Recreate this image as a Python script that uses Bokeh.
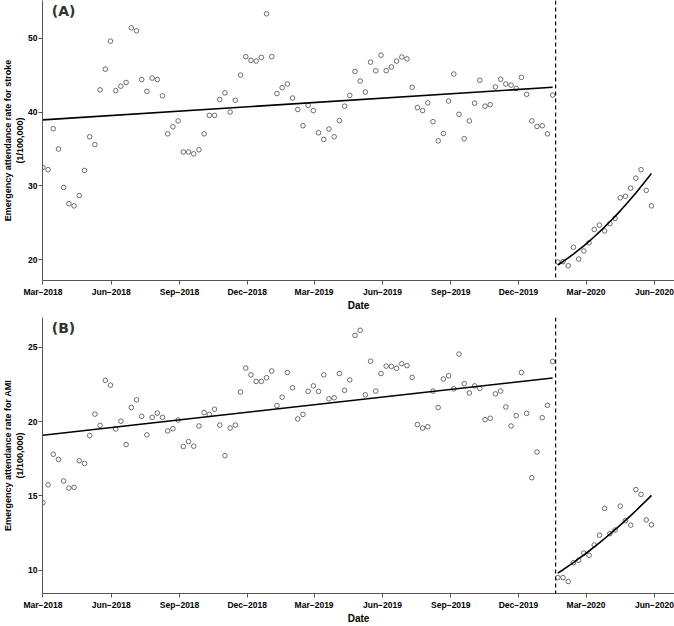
import pandas as pd
from bokeh.plotting import figure
from bokeh.layouts import column
from bokeh.models import (Range1d, FixedTicker, DatetimeTickFormatter, Span, Label,
                          ColumnDataSource)
from bokeh.embed import file_html
from bokeh.resources import INLINE

# ---------------- data ----------------
start_date = "2018-03-01"
n_weeks = 118
n_pre = 99
intervention_date = "2020-01-20"

stroke = [32.5, 32.2, 37.75, 35.0, 29.8, 27.6, 27.3, 28.7, 32.1, 36.65,
          35.6, 43.0, 45.8, 49.6, 42.9, 43.5, 44.0, 51.4, 51.0, 44.4,
          42.8, 44.6, 44.4, 42.2, 37.05, 38.0, 38.8, 34.6, 34.6, 34.35,
          34.9, 37.05, 39.55, 39.55, 41.7, 42.6, 40.0, 41.6, 45.0, 47.5,
          47.0, 46.9, 47.4, 53.3, 47.5, 42.5, 43.3, 43.8, 41.9, 40.35,
          38.15, 40.9, 40.2, 37.2, 36.3, 37.7, 36.65, 38.85, 40.8, 42.25,
          45.5, 44.2, 42.7, 46.75, 45.6, 47.7, 45.6, 46.1, 46.9, 47.45,
          47.2, 43.35, 40.6, 40.2, 41.25, 38.7, 36.1, 37.1, 41.5, 45.15,
          39.7, 36.4, 38.8, 41.2, 44.3, 40.8, 41.0, 43.4, 44.45, 43.8,
          43.65, 43.2, 44.7, 42.4, 38.8, 38.05, 38.15, 37.05, 42.3,
          19.7, 19.75, 19.2, 21.7, 20.1, 21.2, 22.3, 24.1, 24.7, 23.9,
          24.9, 25.6, 28.4, 28.6, 29.7, 31.05, 32.2, 29.4, 27.3]

ami = [14.54, 15.74, 17.8, 17.45, 16.0, 15.52, 15.57, 17.36, 17.18, 19.06,
       20.5, 19.74, 22.77, 22.45, 19.5, 20.02, 18.45, 20.94, 21.46, 20.35,
       19.1, 20.28, 20.57, 20.28, 19.37, 19.52, 20.1, 18.32, 18.65, 18.34,
       19.7, 20.6, 20.48, 20.83, 19.76, 17.7, 19.56, 19.76, 21.99, 23.6,
       23.14, 22.7, 22.7, 22.95, 23.4, 21.07, 21.64, 23.3, 22.27, 20.17,
       20.48, 22.03, 22.4, 22.03, 23.14, 21.53, 21.6, 23.23, 22.1, 22.8,
       25.8, 26.14, 21.8, 24.06, 22.05, 23.23, 23.73, 23.71, 23.58, 23.89,
       23.76, 22.97, 19.8, 19.56, 19.65, 22.05, 20.94, 22.86, 23.08, 22.2,
       24.54, 22.55, 21.92, 22.4, 22.23, 20.13, 20.22, 21.86, 22.05, 20.98,
       19.7, 20.39, 23.3, 20.55, 16.22, 17.95, 20.26, 21.09, 24.04,
       9.5, 9.5, 9.24, 10.5, 10.67, 11.15, 11.0, 11.7, 12.35, 14.16,
       12.46, 12.7, 14.31, 13.33, 13.03, 15.42, 15.1, 13.38, 13.05]

# fitted trend lines
stroke_pre_trend = [38.94, 43.35]
stroke_post_trend = [19.30, 19.77, 20.26, 20.78, 21.33, 21.90, 22.50, 23.12, 23.77, 24.45,
                     25.15, 25.88, 26.63, 27.41, 28.22, 29.05, 29.91, 30.79, 31.70]
ami_pre_trend = [19.08, 22.93]
ami_post_trend = [9.80, 10.03, 10.27, 10.51, 10.77, 11.02, 11.29, 11.56, 11.84, 12.13,
                  12.42, 12.73, 13.03, 13.35, 13.67, 14.00, 14.34, 14.68, 15.03]

tick_dates = ["2018-03-01", "2018-06-01", "2018-09-01", "2018-12-01", "2019-03-01",
              "2019-06-01", "2019-09-01", "2019-12-01", "2020-03-01", "2020-06-01"]
stroke_yticks = [20, 30, 40, 50]
ami_yticks = [10, 15, 20, 25]

dates = pd.date_range(start_date, periods=n_weeks, freq="7D")
pre_dates = dates[:n_pre]
post_dates = dates[n_pre:]

FONT = "Liberation Sans"


def ms(d):
    return pd.Timestamp(d).value / 1e6


def make_panel(values, pre_trend, post_trend, ylabel, yticks, yr, tag, tag_y, height, top_border):
    p = figure(width=674, height=height, x_axis_type="datetime",
               output_backend="svg", toolbar_location=None,
               x_range=Range1d(ms("2018-02-28 12:00"), ms("2020-06-28")),
               y_range=Range1d(*yr),
               min_border_left=0, min_border_right=0, min_border_top=top_border,
               min_border_bottom=0)
    p.outline_line_color = None
    p.xgrid.visible = False
    p.ygrid.visible = False

    src = ColumnDataSource(dict(x=list(dates), y=values))
    p.scatter("x", "y", source=src, marker="circle", size=4.6, fill_color=None,
              line_color="#4a4a4a", line_width=0.8)
    p.line([pre_dates[0], pre_dates[-1]], pre_trend, line_color="black", line_width=1.6)
    p.line(list(post_dates), post_trend, line_color="black", line_width=1.6)
    p.add_layout(Span(location=ms(intervention_date), dimension="height",
                      line_color="black", line_dash="4 3", line_width=1.2))
    p.add_layout(Label(x=ms("2018-03-13"), y=tag_y, text=tag, text_font="DejaVu Sans",
                       text_font_style="bold", text_font_size="14px",
                       text_color="#333333", text_baseline="top"))

    for ax in (p.xaxis, p.yaxis):
        ax.axis_line_color = "#555555"
        ax.axis_line_width = 1
        ax.major_tick_line_color = "#555555"
        ax.major_tick_out = 4
        ax.major_tick_in = 0
        ax.minor_tick_line_color = None
        ax.major_label_text_font = FONT
        ax.major_label_text_font_style = "bold"
        ax.major_label_text_font_size = "8.5px"
        ax.major_label_text_color = "black"
        ax.axis_label_text_font = FONT
        ax.axis_label_text_font_style = "bold"
        ax.axis_label_text_color = "black"
    p.xaxis.axis_label_text_font_size = "10px"
    p.yaxis.axis_label_text_font_size = "9px"
    p.xaxis.ticker = FixedTicker(ticks=[ms(d) for d in tick_dates])
    p.xaxis.formatter = DatetimeTickFormatter(days="%b\u2212%Y", months="%b\u2212%Y",
                                              years="%b\u2212%Y")
    p.xaxis.axis_label = "Date"
    p.xaxis.major_label_standoff = 2
    p.xaxis.axis_label_standoff = 0
    p.yaxis.ticker = FixedTicker(ticks=yticks)
    p.yaxis.axis_label = ylabel
    p.yaxis.major_label_standoff = 1
    p.yaxis.axis_label_standoff = 0
    return p


pA = make_panel(stroke, stroke_pre_trend, stroke_post_trend,
                "Emergency attendance rate for stroke\n(1/100,000)",
                stroke_yticks, (17.2, 55.1), "(A)", 54.7, 313, 0)
pB = make_panel(ami, ami_pre_trend, ami_post_trend,
                "Emergency attendance rate for AMI\n(1/100,000)",
                ami_yticks, (8.43, 27.0), "(B)", 26.8, 313, 4)

layout = column(pA, pB, spacing=0)
open("out.html", "w").write(file_html(layout, INLINE))
